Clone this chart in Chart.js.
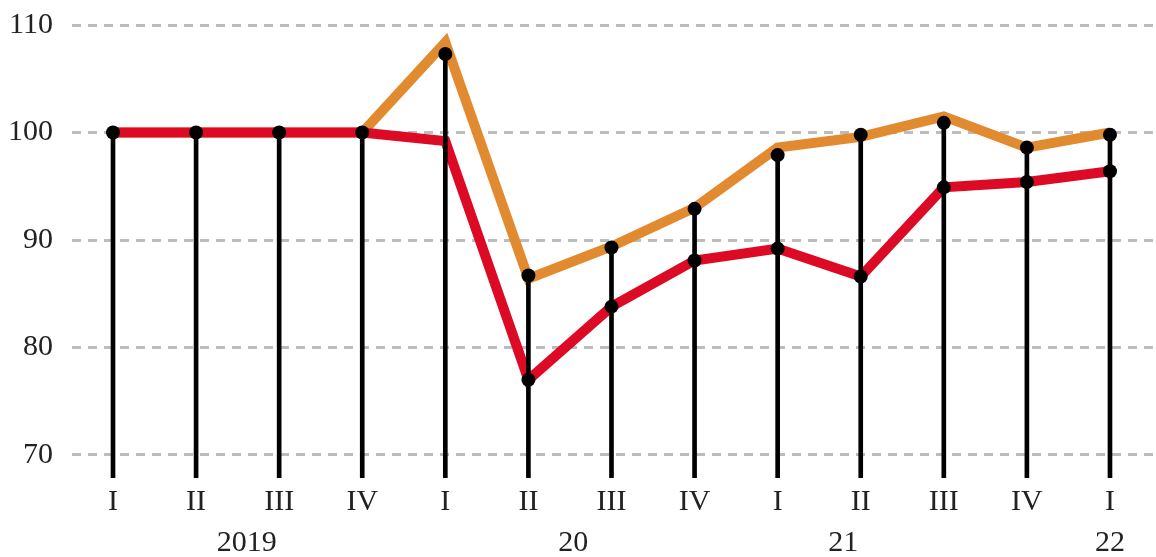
<!DOCTYPE html>
<html>
<head>
<meta charset="utf-8">
<script src="https://cdn.jsdelivr.net/npm/chart.js@4"></script>
<style>
html,body{margin:0;padding:0;background:#fff;}
#wrap{width:1156px;height:557px;}
</style>
</head>
<body>
<div id="wrap"><canvas id="c" width="1156" height="557"></canvas></div>
<script>
// ---- data ----
const quarters = ['I','II','III','IV','I','II','III','IV','I','II','III','IV','I'];
const yearLabels = ['2019','20','21','22'];
const yearAt = [1.61, 5.54, 8.79, 12.0];          // fractional category index of each year label
const orangeLine = [100,100,100,100,108.4,86.4,89.4,93.0,98.6,99.6,101.5,98.6,100];
const redLine    = [100,100,100,100,99.2,77.0,83.8,88.1,89.2,86.6,94.9,95.4,96.4];
const topDots    = [100,100,100,100,107.3,86.7,89.3,92.9,97.9,99.8,100.9,98.6,99.8];
const lowDots    = [null,null,null,null,null,77.0,83.8,88.1,89.2,86.6,94.9,95.4,96.4];
const yTicks = [70,80,90,100,110];

// ---- styling ----
const Y_MIN = 67.86, Y_MAX = 111.4;
const X_MIN = -0.4935, X_MAX = 12.554;
const FONT = '"Liberation Serif", "Times New Roman", serif';
const TXT = '#222';

const xy = arr => arr.map((v,i) => ({x:i, y:v}));

const yearPlugin = {
  id: 'yearLabels',
  afterDraw(chart) {
    const ctx = chart.ctx, xs = chart.scales.x;
    ctx.save();
    ctx.font = '30px ' + FONT;
    ctx.fillStyle = TXT;
    ctx.textAlign = 'center';
    ctx.textBaseline = 'alphabetic';
    yearLabels.forEach((t,i) => {
      ctx.fillText(t, xs.getPixelForValue(yearAt[i]), 551);
    });
    ctx.restore();
  }
};

new Chart(document.getElementById('c'), {
  type: 'line',
  data: {
    datasets: [
      { type:'line', data: xy(orangeLine), borderColor:'#E28A30', borderWidth:10,
        pointRadius:0, tension:0, borderJoinStyle:'miter', borderCapStyle:'butt', order:4 },
      { type:'line', data: xy(redLine), borderColor:'#DC0A25', borderWidth:10,
        pointRadius:0, tension:0, borderJoinStyle:'miter', borderCapStyle:'butt', order:3 },
      { type:'bar', data: topDots.map((v,i)=>({x:i, y:[Y_MIN, v]})), backgroundColor:'#000',
        barThickness:4, borderWidth:0, order:2 },
      { type:'line', data: xy(topDots), showLine:false, pointRadius:7, pointBorderWidth:0,
        pointBackgroundColor:'#000', order:1 },
      { type:'line', data: xy(lowDots), showLine:false, pointRadius:7, pointBorderWidth:0,
        pointBackgroundColor:'#000', order:1 }
    ]
  },
  options: {
    responsive:false,
    animation:false,
    events:[],
    layout:{ autoPadding:false, padding:{ top:10, right:0, left:0, bottom:0 } },
    plugins:{ legend:{display:false}, tooltip:{enabled:false} },
    scales:{
      x:{
        type:'linear', min:X_MIN, max:X_MAX, offset:false,
        grid:{ display:false, drawTicks:false, offset:false },
        border:{ display:false },
        afterBuildTicks(s){ s.ticks = quarters.map((q,i)=>({value:i})); },
        afterFit(s){ s.height = 79; s.paddingLeft = 0; s.paddingRight = 0; },
        ticks:{
          autoSkip:false, maxRotation:0, padding:6, color:TXT,
          font:{ family:FONT, size:30 },
          callback:(v)=> quarters[v]
        }
      },
      y:{
        type:'linear', min:Y_MIN, max:Y_MAX,
        afterBuildTicks(s){ s.ticks = yTicks.map(v=>({value:v})); },
        afterFit(s){ s.width = 72; s.paddingTop = 0; s.paddingBottom = 0; },
        grid:{ color:'#bcbcbc', lineWidth:3, drawTicks:false },
        border:{ display:false, dash:[9,7] },
        ticks:{ padding:19, color:TXT, font:{ family:FONT, size:30 } }
      }
    }
  },
  plugins:[yearPlugin]
});
</script>
</body>
</html>
